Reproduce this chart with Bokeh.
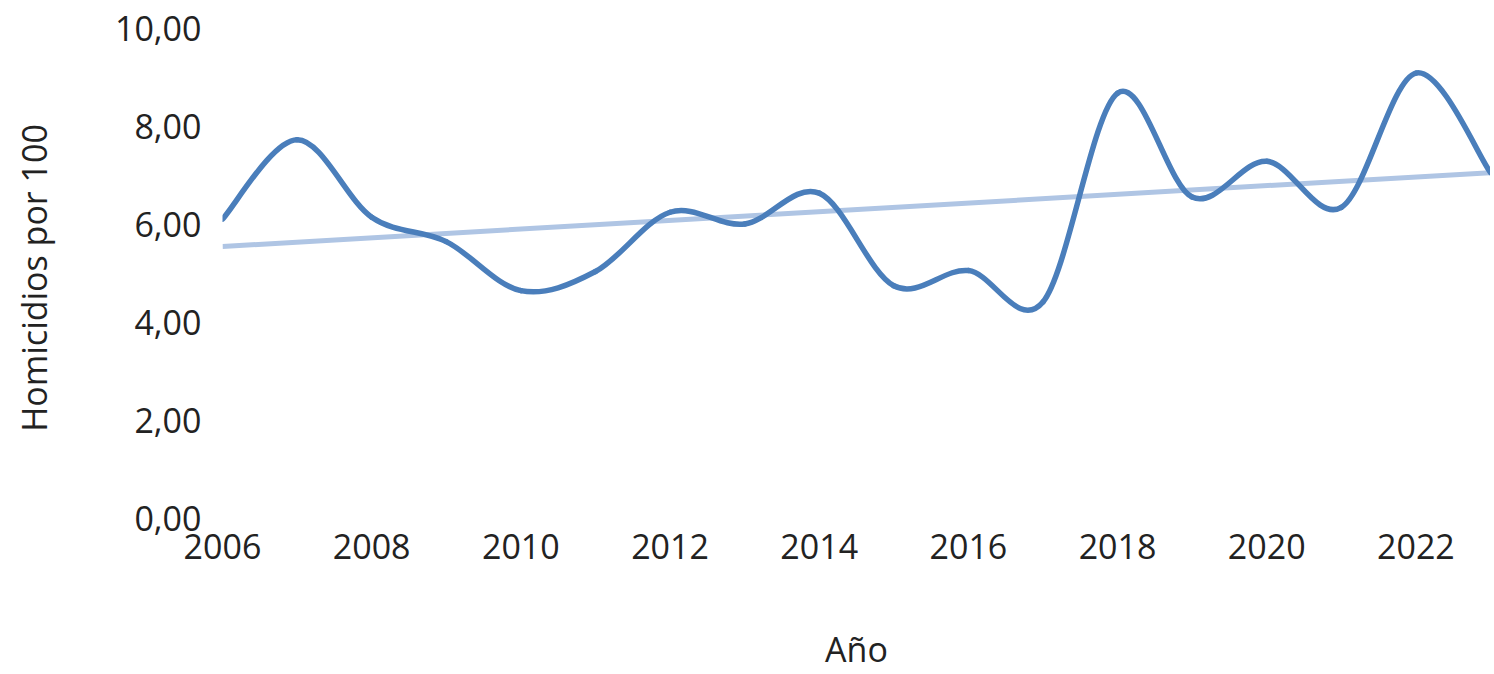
import numpy as np
from bokeh.plotting import figure
from bokeh.models import Range1d, FixedTicker
from bokeh.embed import file_html
from bokeh.resources import INLINE

years = [2006, 2007, 2008, 2009, 2010, 2011, 2012, 2013, 2014,
         2015, 2016, 2017, 2018, 2019, 2020, 2021, 2022, 2023]
rates = [6.11, 7.73, 6.15, 5.65, 4.65, 5.04, 6.25, 6.01, 6.64,
         4.75, 5.06, 4.42, 8.68, 6.56, 7.29, 6.35, 9.09, 7.06]
x_ticks = [2006, 2008, 2010, 2012, 2014, 2016, 2018, 2020, 2022]
y_ticks = [0, 2, 4, 6, 8, 10]
y_tick_labels = ["0,00", "2,00", "4,00", "6,00", "8,00", "10,00"]

FONT = "Open Sans"
LINE = "#4a7ebb"
TREND = "#afc5e4"

p = figure(width=1490, height=674, output_backend="svg", toolbar_location=None,
           x_range=Range1d(2006, 2023), y_range=Range1d(0, 10),
           min_border_left=222, min_border_right=0, min_border_top=28,
           min_border_bottom=152)
p.outline_line_color = None
p.grid.visible = False
p.background_fill_color = "white"
p.border_fill_color = "white"

x = np.array(years, dtype=float)
y = np.array(rates, dtype=float)
n = len(x)

# linear trend line (drawn beneath the series)
slope, intercept = np.polyfit(x, y, 1)
p.line([years[0], years[-1]], [intercept + slope * years[0], intercept + slope * years[-1]],
       line_color=TREND, line_width=5)

# smoothed series (Excel-style Bezier smoothing between the data points)
x0s, y0s, x1s, y1s, cx0, cy0, cx1, cy1 = [], [], [], [], [], [], [], []
for i in range(n - 1):
    pm = i - 1 if i > 0 else i
    pp = i + 2 if i + 2 < n else i + 1
    x0s.append(x[i]); y0s.append(y[i])
    x1s.append(x[i + 1]); y1s.append(y[i + 1])
    cx0.append(x[i] + (x[i + 1] - x[pm]) / 6.0)
    cy0.append(y[i] + (y[i + 1] - y[pm]) / 6.0)
    cx1.append(x[i + 1] - (x[pp] - x[i]) / 6.0)
    cy1.append(y[i + 1] - (y[pp] - y[i]) / 6.0)
p.bezier(x0=x0s, y0=y0s, x1=x1s, y1=y1s, cx0=cx0, cy0=cy0, cx1=cx1, cy1=cy1,
         line_color=LINE, line_width=5.5, line_cap="round", line_join="round")

for ax in (p.xaxis[0], p.yaxis[0]):
    ax.axis_line_color = None
    ax.major_tick_line_color = None
    ax.minor_tick_line_color = None
    ax.major_label_text_font = FONT
    ax.major_label_text_font_size = "34px"
    ax.major_label_text_color = "#222222"
    ax.axis_label_text_font = FONT
    ax.axis_label_text_font_size = "34px"
    ax.axis_label_text_font_style = "normal"
    ax.axis_label_text_color = "#222222"

p.xaxis.ticker = FixedTicker(ticks=x_ticks)
p.xaxis.major_label_standoff = 9
p.xaxis.axis_label = "Año"
p.xaxis.axis_label_standoff = 64

p.yaxis.ticker = FixedTicker(ticks=y_ticks)
p.yaxis.major_label_overrides = {t: s for t, s in zip(y_ticks, y_tick_labels)}
p.yaxis.major_label_standoff = 15
p.yaxis.axis_label = "Homicidios  por 100"
p.yaxis.axis_label_standoff = 55

open("out.html", "w").write(file_html(p, INLINE))
